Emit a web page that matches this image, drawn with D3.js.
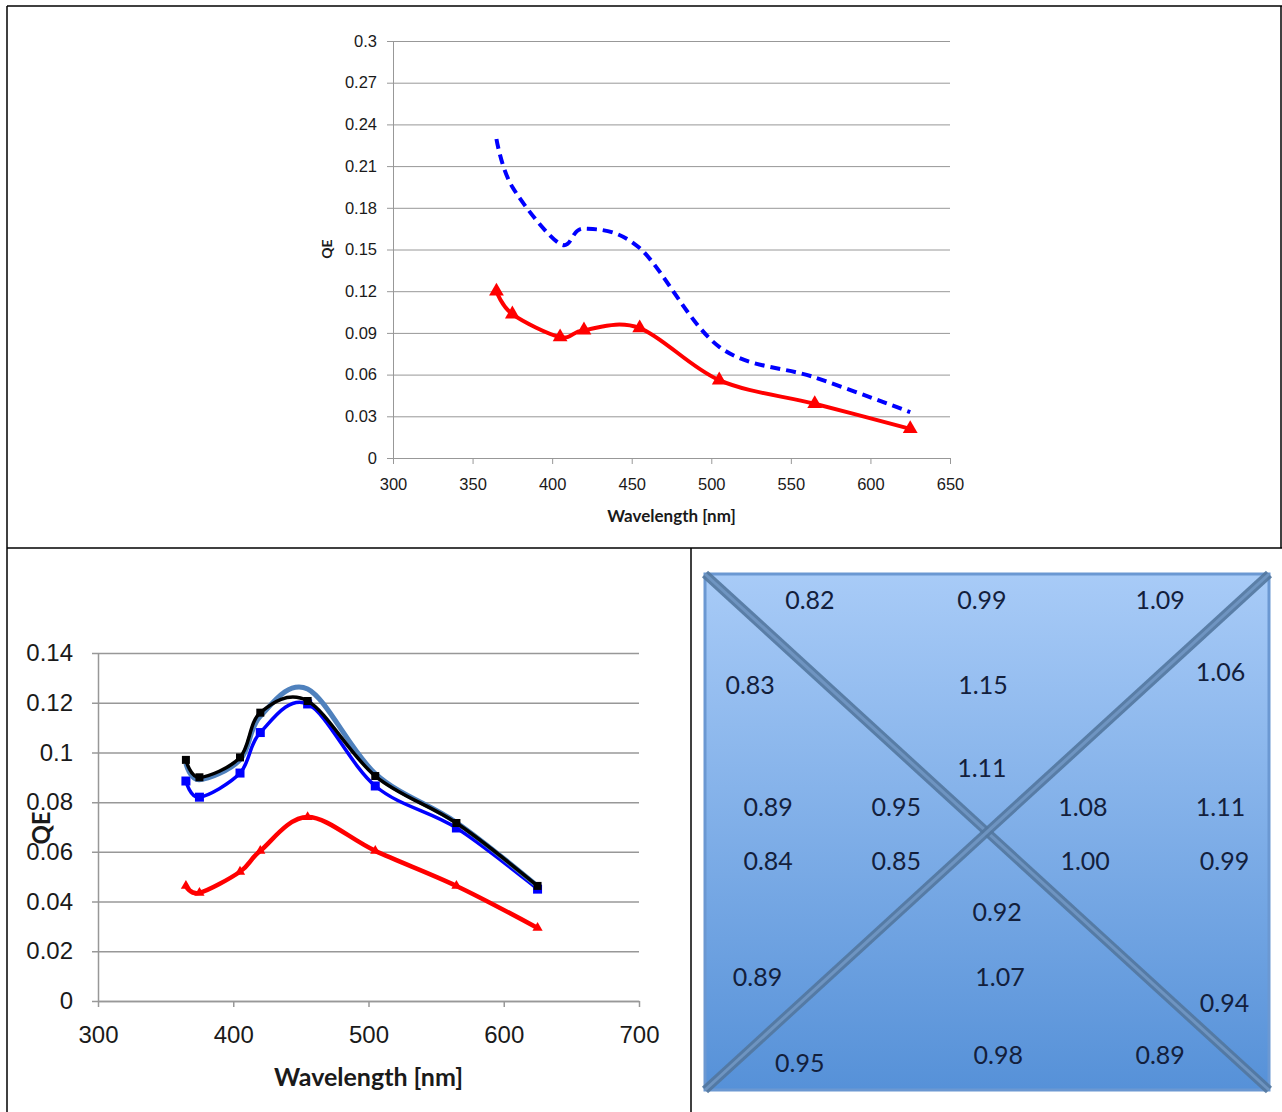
<!DOCTYPE html>
<html>
<head>
<meta charset="utf-8">
<script src="https://cdn.jsdelivr.net/npm/d3@7"></script>
<style>
  body { margin: 0; background: #fff; }
  svg { display: block; font-family: Lato, "Open Sans", sans-serif; }
  .tick text { fill: #1a1a1a; }
</style>
</head>
<body>
<svg id="fig" width="1282" height="1112"></svg>
<script>
// wavelengths measured (nm)
var wavelengths = [365, 375, 405, 420, 455, 505, 565, 625];

// top chart
var topRed  = [0.120, 0.1035, 0.087, 0.092, 0.0935, 0.056, 0.039, 0.021];
var topBlue = [0.2295, 0.195, 0.154, 0.165, 0.151, 0.080, 0.058, 0.033];
var topXTicks = [300, 350, 400, 450, 500, 550, 600, 650];
var topYTicks = [0, 0.03, 0.06, 0.09, 0.12, 0.15, 0.18, 0.21, 0.24, 0.27, 0.3];

// bottom chart
var botBlack = [0.097, 0.090, 0.098, 0.116, 0.1207, 0.0905, 0.0716, 0.0463];
var botBlue  = [0.0885, 0.082, 0.0917, 0.108, 0.1195, 0.0865, 0.0696, 0.045];
var botSteel = [0.0955, 0.089, 0.097, 0.1145, 0.1255, 0.0915, 0.0718, 0.0462];
var botRed   = [0.0463, 0.0435, 0.052, 0.0604, 0.074, 0.0604, 0.0463, 0.0294];
var botXTicks = [300, 400, 500, 600, 700];
var botYTicks = [0, 0.02, 0.04, 0.06, 0.08, 0.1, 0.12, 0.14];

// map of relative values
var mapValues = ["0.82", "0.99", "1.09",
                 "0.83", "1.15", "1.06",
                 "1.11",
                 "0.89", "0.95", "1.08", "1.11",
                 "0.84", "0.85", "1.00", "0.99",
                 "0.92",
                 "0.89", "1.07", "0.94",
                 "0.95", "0.98", "0.89"];
var mapU = [0.186, 0.491, 0.807, 0.080, 0.493, 0.914, 0.491, 0.112, 0.339, 0.670, 0.914,
            0.112, 0.339, 0.674, 0.921, 0.518, 0.093, 0.523, 0.921, 0.168, 0.520, 0.807];
var mapV = [0.050, 0.050, 0.050, 0.215, 0.215, 0.190, 0.376, 0.453, 0.453, 0.453, 0.453,
            0.556, 0.556, 0.556, 0.556, 0.655, 0.781, 0.781, 0.831, 0.948, 0.932, 0.932];

var svg = d3.select("#fig");

function pairs(vals) {
  return wavelengths.map(function(w, i) { return [w, vals[i]]; });
}

function lineChart(o) {
  var g = svg.append("g");
  var x = d3.scaleLinear().domain(o.xDomain).range([o.left, o.right]);
  var y = d3.scaleLinear().domain(o.yDomain).range([o.bottom, o.top]);

  // grid lines (with small tick stub left of the axis)
  g.append("g")
    .attr("transform", "translate(" + (o.left - 6) + ",0)")
    .call(d3.axisLeft(y).tickValues(o.yTicks).tickSize(-(o.right - o.left + 6)).tickFormat(""))
    .call(function(a) {
      a.select(".domain").remove();
      a.selectAll(".tick line").attr("stroke", "#989898").attr("stroke-width", o.gridW);
    });

  // y labels + axis line
  g.append("g")
    .attr("transform", "translate(" + o.left + ",0)")
    .call(d3.axisLeft(y).tickValues(o.yTicks).tickSize(0).tickPadding(o.yPad).tickFormat(function(d) { return String(d); }))
    .call(function(a) {
      a.select(".domain").attr("stroke", "#989898").attr("stroke-width", o.gridW);
      a.selectAll("text").style("font-size", o.tickFont + "px");
    });

  // x axis
  g.append("g")
    .attr("transform", "translate(0," + o.bottom + ")")
    .call(d3.axisBottom(x).tickValues(o.xTicks).tickSize(6).tickSizeOuter(0).tickPadding(o.xPad))
    .call(function(a) {
      a.select(".domain").attr("stroke", "#989898").attr("stroke-width", o.gridW);
      a.selectAll(".tick line").attr("stroke", "#989898").attr("stroke-width", o.gridW);
      a.selectAll("text").style("font-size", o.tickFont + "px");
    });

  // titles
  g.append("text")
    .attr("x", (o.left + o.right) / 2).attr("y", o.xTitleY)
    .attr("text-anchor", "middle")
    .style("font-weight", "bold").style("font-size", o.titleFont + "px").attr("fill", "#1a1a1a")
    .text("Wavelength [nm]");
  g.append("text")
    .attr("transform", "translate(" + o.yTitleX + "," + o.yTitleY + ") rotate(-90)")
    .attr("text-anchor", "middle").attr("dy", "0.35em")
    .style("font-weight", "bold").style("font-size", o.yTitleFont + "px").attr("fill", "#1a1a1a")
    .text("QE");

  var line = d3.line()
    .x(function(d) { return x(d[0]); })
    .y(function(d) { return y(d[1]); })
    .curve(d3.curveCardinal.tension(0));

  o.series.forEach(function(s) {
    var pts = pairs(s.values);
    g.append("path").datum(pts)
      .attr("fill", "none")
      .attr("stroke", s.color)
      .attr("stroke-width", s.width)
      .attr("stroke-dasharray", s.dash || null)
      .attr("stroke-linejoin", "round")
      .attr("d", line);
    if (s.marker) {
      g.selectAll(null).data(pts).enter().append("path")
        .attr("transform", function(d) { return "translate(" + x(d[0]) + "," + y(d[1]) + ")"; })
        .attr("d", d3.symbol(s.marker, s.markerSize))
        .attr("fill", s.color);
    }
  });
}

// frame lines
var frame = svg.append("g").attr("stroke", "#000").attr("stroke-width", 1.5);
frame.append("line").attr("x1", 7).attr("y1", 6).attr("x2", 1282).attr("y2", 6);
frame.append("line").attr("x1", 7).attr("y1", 6).attr("x2", 7).attr("y2", 1112);
frame.append("line").attr("x1", 1281).attr("y1", 6).attr("x2", 1281).attr("y2", 548);
frame.append("line").attr("x1", 7).attr("y1", 548).attr("x2", 1282).attr("y2", 548);
frame.append("line").attr("x1", 691).attr("y1", 548).attr("x2", 691).attr("y2", 1112);

lineChart({
  xDomain: [300, 650], yDomain: [0, 0.3],
  left: 393, right: 950, top: 41, bottom: 458,
  xTicks: topXTicks, yTicks: topYTicks,
  gridW: 1, tickFont: 16.5, yPad: 16, xPad: 14,
  titleFont: 17, xTitleY: 522, yTitleX: 327, yTitleY: 249, yTitleFont: 14,
  series: [
    { values: topBlue, color: "#0000ff", width: 4, dash: "10,6" },
    { values: topRed, color: "#ff0000", width: 4, marker: d3.symbolTriangle, markerSize: 95 }
  ]
});

lineChart({
  xDomain: [300, 700], yDomain: [0, 0.14],
  left: 98, right: 639, top: 653, bottom: 1001,
  xTicks: botXTicks, yTicks: botYTicks,
  gridW: 1.5, tickFont: 24, yPad: 25, xPad: 19,
  titleFont: 25, xTitleY: 1086, yTitleX: 42, yTitleY: 828, yTitleFont: 24,
  series: [
    { values: botRed, color: "#ff0000", width: 4.5, marker: d3.symbolTriangle, markerSize: 45 },
    { values: botBlue, color: "#0000ff", width: 3.5, marker: d3.symbolSquare, markerSize: 81 },
    { values: botSteel, color: "#4f81bd", width: 5 },
    { values: botBlack, color: "#000000", width: 3.5, marker: d3.symbolSquare, markerSize: 64 }
  ]
});

// relative value map
var px = d3.scaleLinear().domain([0, 1]).range([705, 1269]);
var py = d3.scaleLinear().domain([0, 1]).range([574, 1090]);

var defs = svg.append("defs");
var grad = defs.append("linearGradient").attr("id", "bg").attr("x1", 0).attr("y1", 0).attr("x2", 0).attr("y2", 1);
grad.append("stop").attr("offset", "0%").attr("stop-color", "#a8cbf7");
grad.append("stop").attr("offset", "100%").attr("stop-color", "#5691d8");
defs.append("filter").attr("id", "soft").append("feGaussianBlur").attr("stdDeviation", 0.7);

var map = svg.append("g");
map.append("rect")
  .attr("x", px(0)).attr("y", py(0))
  .attr("width", px(1) - px(0)).attr("height", py(1) - py(0))
  .attr("fill", "url(#bg)").attr("stroke", "#6b98d2").attr("stroke-width", 3);

var diag = [[[0, 0], [1, 1]], [[1, 0], [0, 1]]];
diag.forEach(function(d) {
  map.append("line")
    .attr("x1", px(d[0][0])).attr("y1", py(d[0][1]))
    .attr("x2", px(d[1][0])).attr("y2", py(d[1][1]))
    .attr("stroke", "#52779f").attr("stroke-width", 9).attr("opacity", 0.9)
    .attr("filter", "url(#soft)");
  map.append("line")
    .attr("x1", px(d[0][0])).attr("y1", py(d[0][1]))
    .attr("x2", px(d[1][0])).attr("y2", py(d[1][1]))
    .attr("stroke", "#7399c6").attr("stroke-width", 3).attr("opacity", 0.85);
});

map.selectAll("text.val").data(mapValues).enter().append("text")
  .attr("class", "val")
  .attr("x", function(d, i) { return px(mapU[i]); })
  .attr("y", function(d, i) { return py(mapV[i]); })
  .attr("dy", "0.35em")
  .attr("text-anchor", "middle")
  .attr("fill", "#13203c")
  .style("font-size", "25px")
  .text(function(d) { return d; });
</script>
</body>
</html>
